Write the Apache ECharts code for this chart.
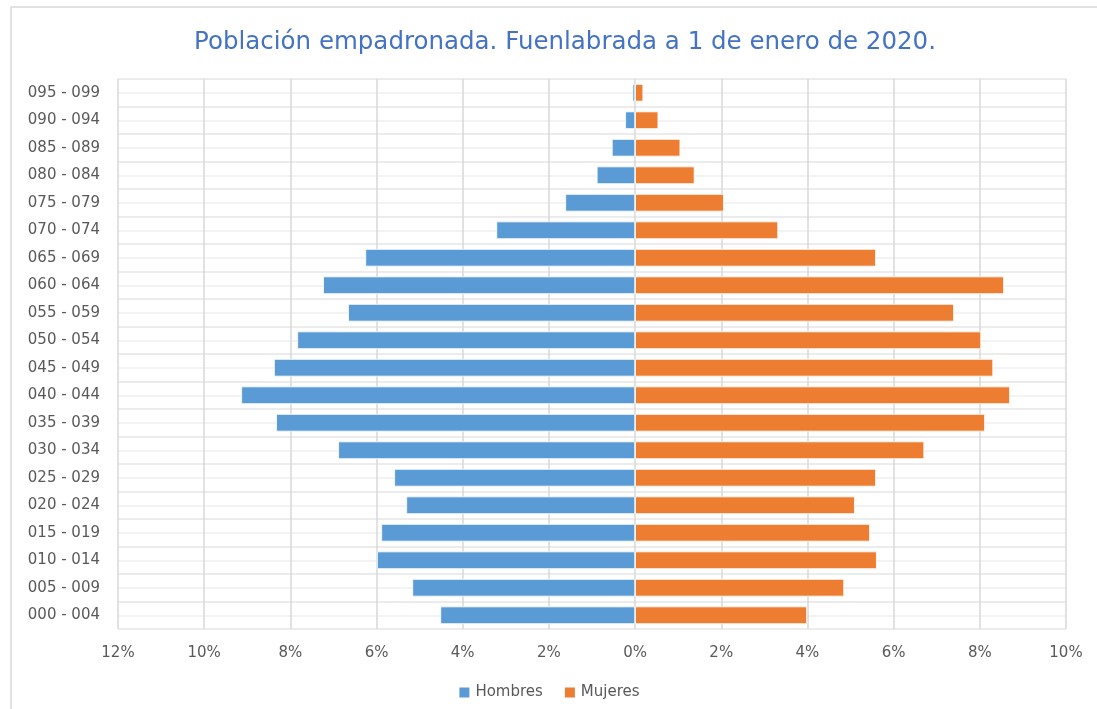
<!DOCTYPE html>
<html>
<head>
<meta charset="utf-8">
<script src="https://cdn.jsdelivr.net/npm/echarts@6/dist/echarts.min.js"></script>
<style>
  html, body { margin: 0; padding: 0; background: #fff; }
  #chart { width: 1097px; height: 709px; }
</style>
</head>
<body>
<div id="chart"></div>
<script>
// grupos de edad, de abajo hacia arriba
const ageGroups = ['000 - 004', '005 - 009', '010 - 014', '015 - 019', '020 - 024',
  '025 - 029', '030 - 034', '035 - 039', '040 - 044', '045 - 049', '050 - 054',
  '055 - 059', '060 - 064', '065 - 069', '070 - 074', '075 - 079', '080 - 084',
  '085 - 089', '090 - 094', '095 - 099']
// % sobre el total
const hombres = [4.52, 5.17, 5.99, 5.89, 5.31, 5.59, 6.89, 8.33, 9.14, 8.38, 7.84,
  6.66, 7.24, 6.26, 3.22, 1.62, 0.89, 0.54, 0.23, 0.06]
const mujeres = [3.99, 4.85, 5.61, 5.45, 5.10, 5.59, 6.71, 8.12, 8.70, 8.31, 8.03,
  7.40, 8.56, 5.59, 3.32, 2.06, 1.38, 1.05, 0.54, 0.19]
const xTicks = [-12, -10, -8, -6, -4, -2, 0, 2, 4, 6, 8, 10]

const font = '"DejaVu Sans", "Noto Sans", sans-serif'
const chart = echarts.init(document.getElementById('chart'))

const option = {
  animation: false,
  textStyle: { fontFamily: font },
  graphic: [{
    type: 'rect',
    shape: { x: 11, y: 7, width: 1200, height: 800 },
    style: { fill: 'none', stroke: '#d9d9d9', lineWidth: 1.5 },
    silent: true
  }],
  title: {
    text: 'Población empadronada. Fuenlabrada a 1 de enero de 2020.',
    left: 560,
    textAlign: 'center',
    top: 25,
    textStyle: { color: '#4472c4', fontSize: 24.5, fontWeight: 'normal', fontFamily: font }
  },
  legend: {
    bottom: 4,
    left: 'center',
    itemWidth: 12,
    itemHeight: 12,
    itemGap: 20,
    icon: 'rect',
    textStyle: { color: '#595959', fontSize: 15, fontFamily: font },
    data: ['Hombres', 'Mujeres']
  },
  grid: { left: 118, right: 31, top: 79, bottom: 80 },
  xAxis: {
    type: 'value',
    min: xTicks[0],
    max: xTicks[xTicks.length - 1],
    interval: 2,
    axisLine: { show: false },
    axisTick: { show: false },
    axisLabel: {
      color: '#595959',
      fontSize: 15,
      margin: 17,
      fontFamily: font,
      formatter: v => Math.abs(v) + '%'
    },
    splitLine: { lineStyle: { color: '#d9d9d9', width: 1.5 } }
  },
  yAxis: [{
    type: 'category',
    data: ageGroups,
    axisLine: { show: false },
    axisTick: { show: false },
    axisLabel: { color: '#595959', fontSize: 15, margin: 18, interval: 0, fontFamily: font },
    splitLine: { show: true, interval: 0, lineStyle: { color: '#d9d9d9', width: 1.5 } }
  }, {
    // lineas finas en el centro de cada grupo
    type: 'value',
    min: 0,
    max: 40,
    interval: 1,
    position: 'right',
    axisLine: { show: false },
    axisTick: { show: false },
    axisLabel: { show: false },
    splitLine: { lineStyle: { color: '#efefef', width: 1.5 } }
  }],
  series: [{
    name: 'Hombres',
    type: 'bar',
    yAxisIndex: 0,
    data: hombres.map(v => -v),
    barWidth: '64%',
    barGap: '-100%',
    itemStyle: { color: '#5b9bd5', borderColor: '#fff', borderWidth: 0.8 },
    z: 3
  }, {
    name: 'Mujeres',
    type: 'bar',
    yAxisIndex: 0,
    data: mujeres,
    barWidth: '64%',
    barGap: '-100%',
    itemStyle: { color: '#ed7d31', borderColor: '#fff', borderWidth: 0.8 },
    z: 3
  }]
}

chart.setOption(option)
</script>
</body>
</html>
